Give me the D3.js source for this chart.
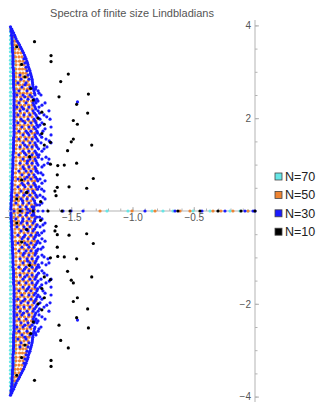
<!DOCTYPE html>
<html>
<head>
<meta charset="utf-8">
<script src="https://cdn.jsdelivr.net/npm/d3@7"></script>
<style>
  body { margin: 0; background: #fff; }
  text { font-family: "Liberation Sans", Arial, sans-serif; }
</style>
</head>
<body>
<svg id="chart"></svg>
<script>
let width = 318;
let height = 402;

let seriesNames = ["N=70", "N=50", "N=30", "N=10"];
let seriesColors = ["#66e6e6", "#ef8432", "#1a1aff", "#000000"];

// upper half of each spectrum as [Im, [Re, ...]]
// (the lower half is the complex conjugate)
let cyanRows = [
  [3.94, [-1.996]], [3.86, [-1.996]], [3.77, [-1.996, -1.980]], [3.69, [-1.996, -1.976]],
  [3.60, [-1.996, -1.976]], [3.51, [-1.996, -1.971]], [3.43, [-1.996, -1.967]], [3.34, [-1.996, -1.967]],
  [3.25, [-1.996, -1.963]], [3.17, [-1.996, -1.963]], [3.08, [-1.996, -1.963]], [3.00, [-1.996, -1.959]],
  [2.91, [-1.996, -1.959]], [2.82, [-1.996, -1.959]], [2.74, [-1.996, -1.959]], [2.65, [-1.996, -1.959]],
  [2.56, [-1.996, -1.959]], [2.48, [-1.996]], [2.39, [-1.996]], [2.31, [-1.996]], [2.22, [-1.996]],
  [2.13, [-1.996]], [2.05, [-1.996]], [1.96, [-1.996]], [1.88, [-1.996]], [1.79, [-1.996]],
  [1.70, [-1.996]], [1.62, [-1.996]], [1.53, [-1.996]], [1.44, [-1.996]], [1.36, [-1.996]],
  [1.27, [-1.996]], [1.19, [-1.996]], [1.10, [-1.996]], [1.01, [-1.996]], [0.93, [-1.996]],
  [0.84, [-1.996]], [0.75, [-1.996]], [0.67, [-1.996]], [0.58, [-1.996]], [0.50, [-1.996]],
  [0.41, [-1.996]], [0.32, [-1.996]], [0.24, [-1.996]], [0.15, [-1.996]], [0.06, [-1.996]]
];
let cyanReal = [-1.208, -1.037, -0.841, -0.751, -0.669, -0.506, -0.367, -0.204, -0.122, -0.057];

let orangeRows = [
  [3.92, [-1.992]], [3.84, [-1.984]], [3.75, [-1.976]], [3.66, [-1.967, -1.951]],
  [3.58, [-1.963, -1.939]], [3.49, [-1.959, -1.927]], [3.41, [-1.959, -1.935, -1.910]],
  [3.32, [-1.955, -1.927, -1.902]], [3.23, [-1.951, -1.922, -1.894]], [3.15, [-1.951, -1.918, -1.886]],
  [3.06, [-1.951, -1.922, -1.898, -1.873]], [2.97, [-1.951, -1.918, -1.894, -1.869]],
  [2.89, [-1.951, -1.922, -1.894, -1.861]], [2.80, [-1.951, -1.918, -1.886, -1.853]],
  [2.72, [-1.951, -1.922, -1.894, -1.865, -1.845]], [2.63, [-1.947, -1.918, -1.886, -1.857, -1.837]],
  [2.54, [-1.947, -1.918, -1.890, -1.861, -1.829]], [2.46, [-1.947, -1.914, -1.886, -1.853, -1.829]],
  [2.37, [-1.947, -1.918, -1.886, -1.857, -1.824]], [2.28, [-1.947, -1.914, -1.882, -1.849, -1.820]],
  [2.20, [-1.947, -1.918, -1.886, -1.853, -1.820]], [2.11, [-1.947, -1.914, -1.882, -1.845, -1.812]],
  [2.03, [-1.947, -1.918, -1.886, -1.853, -1.820]], [1.94, [-1.947, -1.914, -1.878, -1.845, -1.812, -1.788]],
  [1.85, [-1.947, -1.918, -1.886, -1.853, -1.820]], [1.77, [-1.947, -1.914, -1.882, -1.845, -1.812]],
  [1.68, [-1.947, -1.918, -1.886, -1.853, -1.820, -1.796]], [1.59, [-1.947, -1.914, -1.878, -1.845, -1.812]],
  [1.51, [-1.947, -1.918, -1.886, -1.853, -1.820]], [1.42, [-1.947, -1.914, -1.882, -1.845, -1.812, -1.788]],
  [1.34, [-1.951, -1.918, -1.886, -1.853, -1.820]], [1.25, [-1.951, -1.914, -1.878, -1.845, -1.812]],
  [1.16, [-1.951, -1.918, -1.886, -1.853, -1.820, -1.796]], [1.08, [-1.951, -1.914, -1.882, -1.845, -1.812]],
  [0.99, [-1.951, -1.918, -1.886, -1.853, -1.820]], [0.91, [-1.951, -1.914, -1.878, -1.845, -1.812, -1.788]],
  [0.82, [-1.955, -1.918, -1.886, -1.853, -1.820]], [0.73, [-1.955, -1.918, -1.882, -1.845, -1.812]],
  [0.65, [-1.955, -1.922, -1.886, -1.853, -1.820, -1.796]], [0.56, [-1.959, -1.918, -1.882, -1.845, -1.812]],
  [0.47, [-1.959, -1.922, -1.886, -1.853, -1.820, -1.788]], [0.39, [-1.959, -1.927, -1.890, -1.853, -1.816]],
  [0.30, [-1.963, -1.927, -1.894, -1.857, -1.820, -1.788]], [0.22, [-1.963, -1.931, -1.894, -1.861, -1.829]],
  [0.13, [-1.967, -1.935, -1.898, -1.861, -1.824, -1.796]], [0.04, [-1.967, -1.935, -1.902, -1.869, -1.837, -1.804]]
];
let orangeReal = [-1.265, -1.004, -0.816, -0.612, -0.531, -0.343, -0.278, -0.180, -0.057];

let blueRows = [
  [3.97, [-1.996]], [3.88, [-1.992, -1.980]], [3.79, [-1.988, -1.963]], [3.71, [-1.984, -1.951]],
  [3.62, [-1.984, -1.931]], [3.53, [-1.980, -1.914]], [3.45, [-1.980, -1.898]], [3.36, [-1.976, -1.882]],
  [3.28, [-1.976, -1.869, -1.886]], [3.19, [-1.976, -1.857, -1.878]], [3.10, [-1.976, -1.849, -1.869]],
  [3.02, [-1.971, -1.837, -1.861]], [2.93, [-1.971, -1.829, -1.853, -1.918]],
  [2.84, [-1.971, -1.820, -1.845, -1.910]], [2.76, [-1.971, -1.816, -1.869, -1.935]],
  [2.67, [-1.971, -1.812, -1.837, -1.902, -1.788]], [2.59, [-1.967, -1.804, -1.861, -1.927, -1.771]],
  [2.50, [-1.967, -1.796, -1.837, -1.894, -1.943, -1.747]], [2.41, [-1.967, -1.804, -1.853, -1.910, -1.780]],
  [2.35, [-1.449]],
  [2.33, [-1.967, -1.812, -1.869, -1.927, -1.788, -1.714]], [2.24, [-1.967, -1.796, -1.845, -1.902, -1.943, -1.763]],
  [2.16, [-1.967, -1.812, -1.861, -1.918, -1.771, -1.682]], [2.07, [-1.967, -1.788, -1.837, -1.886, -1.935, -1.722]],
  [1.98, [-1.967, -1.804, -1.853, -1.910, -1.755, -1.673]], [1.90, [-1.967, -1.788, -1.829, -1.878, -1.935, -1.739]],
  [1.81, [-1.967, -1.804, -1.845, -1.902, -1.771, -1.665]], [1.72, [-1.967, -1.780, -1.829, -1.869, -1.927, -1.731]],
  [1.64, [-1.967, -1.796, -1.845, -1.894, -1.755, -1.665]], [1.55, [-1.971, -1.780, -1.820, -1.869, -1.927, -1.706]],
  [1.47, [-1.971, -1.796, -1.837, -1.894, -1.747, -1.665]], [1.38, [-1.971, -1.780, -1.820, -1.861, -1.918, -1.698]],
  [1.29, [-1.971, -1.796, -1.845, -1.894, -1.739]], [1.21, [-1.976, -1.780, -1.820, -1.869, -1.927, -1.763]],
  [1.12, [-1.976, -1.796, -1.837, -1.894, -1.739, -1.682]], [1.03, [-1.976, -1.780, -1.820, -1.861, -1.918, -1.690]],
  [0.95, [-1.976, -1.796, -1.845, -1.894, -1.739]], [0.86, [-1.980, -1.780, -1.829, -1.869, -1.927, -1.788]],
  [0.78, [-1.980, -1.804, -1.845, -1.902, -1.731]], [0.69, [-1.980, -1.780, -1.829, -1.878, -1.935, -1.755]],
  [0.60, [-1.984, -1.804, -1.853, -1.902, -1.739]], [0.52, [-1.984, -1.788, -1.829, -1.878, -1.935, -1.763]],
  [0.43, [-1.984, -1.812, -1.853, -1.910, -1.722]], [0.34, [-1.988, -1.788, -1.837, -1.886, -1.943, -1.755]],
  [0.26, [-1.988, -1.812, -1.861, -1.910, -1.714]], [0.17, [-1.992, -1.796, -1.845, -1.894, -1.951, -1.739]],
  [0.09, [-1.992, -1.820, -1.869, -1.918, -1.804]],
  // points between the rows above: the tight outer edge and the chevrons
  [3.92, [-1.990, -1.986]], [3.84, [-1.986, -1.971]], [3.75, [-1.984, -1.957]], [3.66, [-1.982, -1.941]],
  [3.58, [-1.982, -1.922]], [3.49, [-1.980, -1.906]], [3.41, [-1.978, -1.890]], [3.32, [-1.976, -1.876]],
  [3.23, [-1.976, -1.863]], [3.15, [-1.976, -1.853]], [3.06, [-1.973, -1.843]], [2.97, [-1.973, -1.833]],
  [2.89, [-1.971, -1.824]], [2.80, [-1.971, -1.818]], [2.72, [-1.971, -1.814, -1.878]],
  [2.63, [-1.969, -1.808, -1.792]], [2.54, [-1.967, -1.800, -1.763]], [2.46, [-1.967, -1.820, -1.878]],
  [2.37, [-1.967, -1.794, -1.771]], [2.28, [-1.967, -1.804, -1.739]], [2.20, [-1.967, -1.790, -1.890]],
  [2.11, [-1.967, -1.800, -1.759]], [2.03, [-1.967, -1.780, -1.700]], [1.94, [-1.967, -1.796, -1.894]],
  [1.85, [-1.967, -1.780, -1.757]], [1.77, [-1.967, -1.792, -1.714]], [1.68, [-1.967, -1.775, -1.857]],
  [1.59, [-1.969, -1.790, -1.741]], [1.51, [-1.969, -1.771, -1.680]], [1.42, [-1.971, -1.788, -1.878]],
  [1.34, [-1.971, -1.767, -1.722]], [1.25, [-1.973, -1.786, -1.882]], [1.16, [-1.973, -1.769, -1.706]],
  [1.08, [-1.976, -1.788, -1.857]], [0.99, [-1.976, -1.771, -1.722]], [0.91, [-1.978, -1.790, -1.886]],
  [0.82, [-1.978, -1.771, -1.747]], [0.73, [-1.980, -1.792, -1.861]], [0.65, [-1.982, -1.773, -1.714]],
  [0.56, [-1.982, -1.794, -1.890]], [0.47, [-1.984, -1.775, -1.741]], [0.39, [-1.986, -1.800, -1.869]],
  [0.30, [-1.986, -1.778, -1.731]], [0.22, [-1.988, -1.800, -1.898]], [0.13, [-1.990, -1.782, -1.759]],
  [0.04, [-1.992, -1.808, -1.857]]
];
let blueReal = [-1.967, -1.902, -1.837, -1.771, -1.731, -1.567, -1.502, -1.404, -0.898, -0.653, -0.433, -0.245, -0.082, -0.016, 0];

// N=10 as [Re, Im]
let blackPoints = [
  [-1.80, 3.65], [-1.945, 3.54], [-1.665, 3.35], [-1.665, 3.22], [-1.905, 3.16], [-1.524, 2.95],
  [-1.878, 2.89], [-1.586, 2.79], [-1.83, 2.64], [-1.36, 2.52], [-1.60, 2.46], [-1.81, 2.39],
  [-1.456, 2.30], [-1.74, 2.13], [-1.366, 2.11], [-1.77, 2.00], [-1.483, 1.95], [-1.45, 1.87],
  [-1.72, 1.87], [-1.74, 1.67], [-1.483, 1.55], [-1.50, 1.49], [-1.67, 1.48], [-1.72, 1.42],
  [-1.333, 1.42], [-1.53, 1.30], [-1.84, 1.17], [-1.67, 1.01], [-1.456, 1.03], [-1.557, 0.99],
  [-1.61, 0.98], [-1.614, 0.78], [-1.32, 0.70], [-1.905, 0.67], [-1.614, 0.51], [-1.518, 0.52],
  [-1.374, 0.49], [-1.633, 0.43], [-1.864, 0.40], [-1.624, 0.33], [-1.75, 0.20], [-1.945, 0.26]
];
let blackReal = [-1.918, -1.812, -1.690, -1.576, -1.510, -0.629, -0.449, -0.302, -0.114, 0];

let xMajor = [-2, -1.5, -1, -0.5];
let xMajorLabels = ["\u22122", "\u22121.5", "\u22121.0", "\u22120.5"];
let yMajor = [-4, -2, 2, 4];
let yMajorLabels = ["\u22124", "\u22122", "2", "4"];

function fromRows(rows) {
  return rows.flatMap(([im, res]) => res.map((re) => [re, im]));
}
function withConjugates(pts) {
  return pts.flatMap((p) => [p, [p[0], -p[1]]]);
}
function onAxis(res) {
  return res.map((re) => [re, 0]);
}

let series = [
  withConjugates(fromRows(cyanRows)).concat(onAxis(cyanReal)),
  withConjugates(fromRows(orangeRows)).concat(onAxis(orangeReal)),
  withConjugates(fromRows(blueRows)).concat(onAxis(blueReal)),
  withConjugates(blackPoints).concat(onAxis(blackReal))
];

let xScale = d3.scaleLinear().domain([-2, 0]).range([10, 255]);
let yScale = d3.scaleLinear().domain([-4, 4]).range([396.6, 25.4]);

let svg = d3.select("#chart").attr("width", width).attr("height", height);

// axes
let axisColor = "#b3b3b3";
let labelColor = "#555";

svg.append("line")
  .attr("x1", 8).attr("x2", xScale(0))
  .attr("y1", yScale(0)).attr("y2", yScale(0))
  .attr("stroke", axisColor);
svg.append("line")
  .attr("x1", xScale(0)).attr("x2", xScale(0))
  .attr("y1", 20).attr("y2", height)
  .attr("stroke", axisColor);

let xMinor = d3.range(-20, 0).map((i) => i / 10);
let yMinor = d3.range(-8, 9).map((i) => i / 2).filter((v) => v !== 0);

svg.append("g")
  .attr("transform", "translate(0," + yScale(0) + ")")
  .call(d3.axisBottom(xScale).tickValues(xMinor).tickSizeInner(-2.5).tickSizeOuter(0).tickFormat(""))
  .call((g) => g.select(".domain").remove())
  .call((g) => g.selectAll("line").attr("stroke", axisColor));

svg.append("g")
  .attr("transform", "translate(0," + yScale(0) + ")")
  .call(d3.axisBottom(xScale).tickValues(xMajor).tickSizeInner(-4).tickSizeOuter(0).tickPadding(3)
    .tickFormat((d, i) => xMajorLabels[i]))
  .call((g) => g.select(".domain").remove())
  .call((g) => g.selectAll("line").attr("stroke", axisColor))
  .call((g) => g.selectAll("text").attr("fill", labelColor).style("font-size", "10px"));

svg.append("g")
  .attr("transform", "translate(" + xScale(0) + ",0)")
  .call(d3.axisLeft(yScale).tickValues(yMinor).tickSizeInner(-2.5).tickSizeOuter(0).tickFormat(""))
  .call((g) => g.select(".domain").remove())
  .call((g) => g.selectAll("line").attr("stroke", axisColor));

svg.append("g")
  .attr("transform", "translate(" + xScale(0) + ",0)")
  .call(d3.axisLeft(yScale).tickValues(yMajor).tickSizeInner(-4).tickSizeOuter(0).tickPadding(4)
    .tickFormat((d, i) => yMajorLabels[i]))
  .call((g) => g.select(".domain").remove())
  .call((g) => g.selectAll("line").attr("stroke", axisColor))
  .call((g) => g.selectAll("text").attr("fill", labelColor).style("font-size", "10px"));

// points, N=70 drawn first so N=10 ends on top
svg.append("g")
  .selectAll("g")
  .data(series)
  .enter()
  .append("g")
  .attr("fill", (d, i) => seriesColors[i])
  .selectAll("circle")
  .data((d) => d)
  .enter()
  .append("circle")
  .attr("cx", (d) => xScale(d[0]))
  .attr("cy", (d) => yScale(d[1]))
  .attr("r", 1.6);

// title
svg.append("text")
  .attr("x", 132).attr("y", 17)
  .attr("text-anchor", "middle")
  .attr("fill", labelColor)
  .style("font-size", "11px")
  .text("Spectra of finite size Lindbladians");

// legend
let legend = svg.append("g")
  .selectAll("g")
  .data(seriesNames)
  .enter()
  .append("g")
  .attr("transform", (d, i) => "translate(275," + (176.5 + i * 18.4) + ")");

legend.append("rect")
  .attr("x", 0).attr("y", -3.5)
  .attr("width", 7).attr("height", 7)
  .attr("fill", (d, i) => seriesColors[i])
  .attr("stroke", "#444")
  .attr("stroke-width", 0.8);

legend.append("text")
  .attr("x", 10).attr("y", 4.5)
  .attr("fill", "#222")
  .style("font-size", "12.5px")
  .text((d) => d);
</script>
</body>
</html>
